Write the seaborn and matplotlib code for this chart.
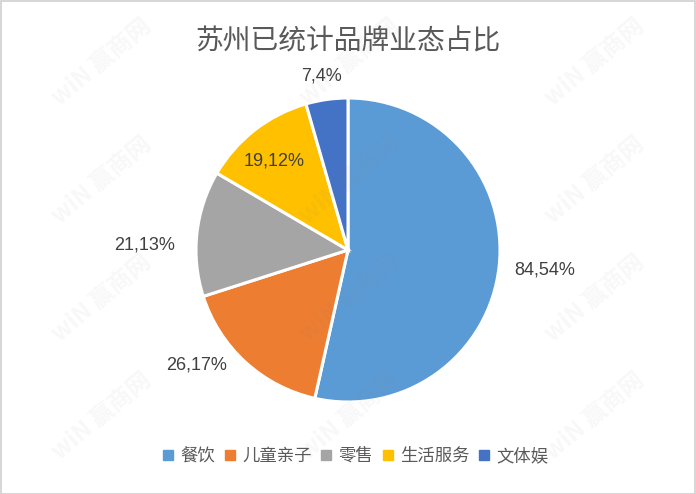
import matplotlib
matplotlib.use("Agg")
import matplotlib.pyplot as plt
import seaborn as sns
import numpy as np
from matplotlib.patches import Rectangle
from matplotlib.lines import Line2D

categories = ["餐饮", "儿童亲子", "零售", "生活服务", "文体娱"]
values = [84, 26, 21, 19, 7]
percents = [54, 17, 13, 12, 4]
colors = ["#5B9BD5", "#ED7D31", "#A5A5A5", "#FFC000", "#4472C4"]
title = "苏州已统计品牌业态占比"

sns.set_theme(style="white")
plt.rcParams['font.family'] = ['Noto Sans CJK SC', 'DejaVu Sans']

W, H = 696, 494
fig = plt.figure(figsize=(W / 100, H / 100), dpi=100)
fig.patch.set_facecolor("white")
ax = fig.add_axes([0, 0, 1, 1])
R = 152.0
cx, cy = 348.0, 250.0

wedges, _ = ax.pie(values, colors=colors, startangle=90, counterclock=False,
                   radius=1.0, wedgeprops=dict(edgecolor="white", linewidth=2.2),
                   frame=True)
ax.set_xlim(-cx / R, (W - cx) / R)
ax.set_ylim(-(H - cy) / R, cy / R)
ax.set_aspect("auto")
ax.set_axis_off()

# label placement (distance from centre, angular offset in degrees)
label_dist = [1.30, 1.25, 1.34, 0.76, 1.16]
label_off = [0.5, -10.5, 5.0, 2.0, 0.5]
for w, v, p, d, off in zip(wedges, values, percents, label_dist, label_off):
    ang = np.deg2rad((w.theta1 + w.theta2) / 2 + off)
    ax.text(d * np.cos(ang), d * np.sin(ang), f"{v},{p}%", ha="center", va="center",
            fontsize=13, color="#404040", family=["Liberation Sans", "DejaVu Sans"])

fig.text(0.5, 1 - 42 / H, title, ha="center", va="center", fontsize=20, color="#595959")

handles = [Line2D([0], [0], marker="s", linestyle="", markersize=7,
                  markerfacecolor=c, markeredgecolor=c) for c in colors]
leg = fig.legend(handles, categories, loc="center", bbox_to_anchor=(355 / W, 1 - 456 / H),
                 ncol=5, frameon=False, fontsize=12.5, handlelength=0.8,
                 handletextpad=0.3, columnspacing=0.45, labelcolor="#595959")

# watermarks
xs = [102, 350, 595]
ys = [62, 180, 298, 416]
for yy in ys:
    for xx in xs:
        fig.text(xx / W, 1 - yy / H, "wiN 赢商网", ha="center", va="center",
                 rotation=40, fontsize=17, fontweight="bold", color="#808080",
                 alpha=0.06, zorder=10)

fig.patches.append(Rectangle((0.5 / W, 0.5 / H), 1 - 1.5 / W, 1 - 1.5 / H,
                             transform=fig.transFigure, fill=False,
                             edgecolor="#D0D0D0", linewidth=1.2))

fig.savefig("out.png", dpi=100)
